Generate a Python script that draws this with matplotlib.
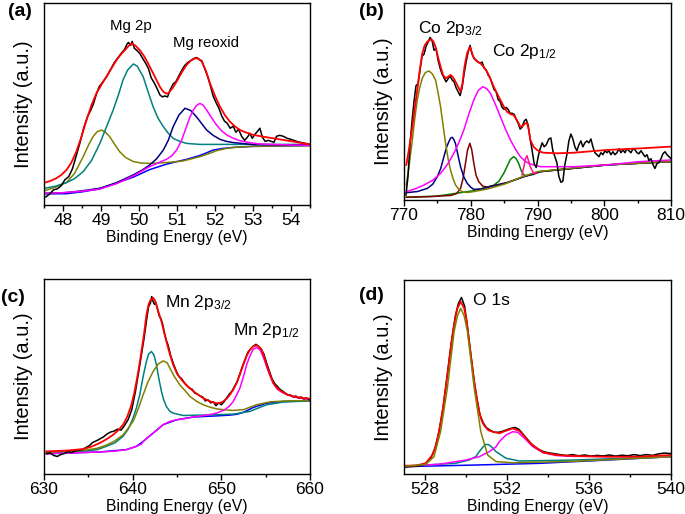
import numpy as np
import matplotlib.pyplot as plt
from matplotlib.ticker import MultipleLocator

plt.rcParams['font.family'] = 'Liberation Sans'
plt.rcParams['mathtext.fontset'] = 'custom'
plt.rcParams['mathtext.rm'] = 'Liberation Sans'
plt.rcParams['mathtext.it'] = 'Liberation Sans:italic'

# ---------- (a) Mg 2p ----------
a_exp = [(47.55, 4.0), (47.65, 5.5), (47.75, 7.5), (47.85, 8.0), (47.95, 9.5), (48.05, 12.5), (48.15, 14.0),
         (48.25, 18.0), (48.35, 24.5), (48.45, 31.0), (48.55, 38.5), (48.65, 44.0), (48.72, 46.5), (48.80, 50.0),
         (48.88, 55.0), (48.95, 58.5), (49.05, 61.0), (49.15, 63.5), (49.25, 67.0), (49.35, 70.5), (49.45, 73.0),
         (49.55, 75.5), (49.62, 77.0), (49.68, 79.5), (49.72, 80.5), (49.78, 79.0), (49.82, 81.0), (49.88, 77.5),
         (49.95, 76.5), (50.02, 75.0), (50.10, 72.5), (50.18, 70.0), (50.25, 67.5), (50.32, 63.0), (50.40, 60.5),
         (50.48, 57.5), (50.55, 54.5), (50.62, 53.5), (50.68, 54.0), (50.75, 53.5), (50.82, 57.0), (50.90, 60.0),
         (50.97, 61.0), (51.05, 64.0), (51.12, 66.5), (51.20, 69.0), (51.28, 70.5), (51.36, 71.5), (51.44, 72.5),
         (51.52, 73.0), (51.58, 72.0), (51.65, 71.5), (51.72, 68.0), (51.80, 64.0), (51.88, 59.0), (51.95, 54.0),
         (52.02, 51.0), (52.10, 48.0), (52.18, 44.0), (52.25, 41.5), (52.32, 40.5), (52.40, 38.0), (52.48, 39.0),
         (52.55, 36.0), (52.62, 37.5), (52.70, 34.0), (52.78, 32.0), (52.85, 33.5), (52.92, 35.5), (52.98, 33.0),
         (53.05, 35.0), (53.12, 36.5), (53.18, 38.0), (53.25, 33.5), (53.32, 31.5), (53.40, 32.0), (53.48, 31.5),
         (53.55, 31.0), (53.62, 34.0), (53.70, 34.5), (53.80, 34.0), (53.90, 33.0), (54.00, 32.5), (54.10, 31.8),
         (54.20, 31.2), (54.30, 30.8), (54.40, 30.4), (54.50, 30.0)]
a_fit = [(47.52, 11.1), (47.65, 11.8), (47.82, 13.2), (47.95, 14.8), (48.09, 17.3), (48.22, 21.0), (48.35, 26.4),
         (48.48, 33.5), (48.62, 42.1), (48.75, 49.5), (48.88, 55.3), (49.01, 59.5), (49.14, 63.5), (49.28, 67.8),
         (49.41, 71.8), (49.52, 74.5), (49.63, 76.7), (49.72, 78.6), (49.80, 80.0), (49.90, 79.0), (50.02, 76.7),
         (50.13, 73.8), (50.24, 70.1), (50.35, 66.0), (50.46, 61.9), (50.55, 58.5), (50.64, 56.1), (50.71, 55.2),
         (50.77, 55.3), (50.88, 57.8), (50.99, 61.1), (51.12, 65.5), (51.25, 69.3), (51.36, 71.4), (51.47, 72.6),
         (51.56, 72.5), (51.65, 71.0), (51.76, 66.5), (51.87, 60.2), (52.00, 54.0), (52.13, 48.7), (52.26, 44.5),
         (52.39, 41.3), (52.52, 39.0), (52.66, 37.1), (52.83, 35.8), (53.01, 34.7), (53.27, 33.8), (53.54, 33.0),
         (53.80, 32.2), (54.06, 31.4), (54.28, 30.7), (54.50, 30.0)]
a_bg = [(47.52, 5.5), (48.09, 5.6), (48.50, 6.5), (48.97, 8.0), (49.40, 10.8), (49.85, 13.8), (50.28, 17.5),
        (50.72, 20.2), (51.00, 21.5), (51.25, 22.6), (51.60, 24.5), (51.80, 26.0), (51.95, 27.2), (52.20, 28.0),
        (52.48, 28.5), (53.00, 29.0), (54.50, 29.4)]
a_p490 = [(47.52, 7.1), (47.80, 8.8), (48.09, 11.1), (48.30, 15.5), (48.53, 23.9), (48.68, 30.0), (48.79, 33.8),
          (48.90, 36.3), (49.01, 37.1), (49.12, 36.0), (49.23, 33.8), (49.36, 30.0), (49.49, 26.4), (49.65, 23.5),
          (49.85, 21.5), (50.05, 20.8), (50.28, 20.6), (50.72, 21.0), (51.16, 21.8), (51.60, 23.9), (51.85, 25.5),
          (52.04, 26.9), (52.25, 27.8), (52.48, 28.5), (53.00, 29.1), (54.50, 29.4)]
a_p498 = [(47.52, 8.3), (47.80, 9.3), (48.09, 11.1), (48.30, 13.0), (48.53, 16.5), (48.75, 22.0), (48.97, 30.5),
          (49.14, 38.5), (49.32, 47.0), (49.45, 54.0), (49.58, 61.9), (49.70, 66.8), (49.85, 69.8), (49.95, 68.8),
          (50.11, 63.5), (50.24, 56.0), (50.37, 48.7), (50.50, 43.0), (50.64, 38.8), (50.77, 35.5), (50.90, 33.0),
          (51.07, 31.5), (51.25, 30.5), (51.60, 30.0), (52.50, 30.0), (54.50, 30.0)]
a_p512 = [(47.52, 5.8), (48.00, 6.0), (48.50, 7.0), (48.97, 8.3), (49.40, 11.0), (49.85, 14.9), (50.10, 17.5),
          (50.28, 19.8), (50.46, 22.8), (50.64, 27.2), (50.77, 32.0), (50.90, 38.8), (51.05, 44.5), (51.21, 47.9),
          (51.36, 46.8), (51.51, 43.7), (51.65, 40.3), (51.78, 37.1), (51.95, 34.5), (52.13, 32.5), (52.30, 31.5),
          (52.48, 30.9), (53.01, 29.9), (54.50, 29.7)]
a_p516 = [(47.52, 5.8), (48.00, 6.1), (48.50, 6.8), (48.97, 7.9), (49.40, 10.5), (49.85, 14.4), (50.28, 19.0),
          (50.50, 20.8), (50.72, 22.6), (50.86, 24.3), (50.99, 27.2), (51.12, 32.0), (51.25, 38.8), (51.34, 43.5),
          (51.43, 47.0), (51.51, 49.2), (51.60, 50.3), (51.69, 49.4), (51.78, 47.0), (51.91, 43.2), (52.04, 39.6),
          (52.17, 36.8), (52.31, 34.7), (52.48, 33.0), (52.66, 31.8), (52.90, 30.9), (53.18, 30.2), (53.80, 29.8),
          (54.50, 29.5)]

# ---------- (b) Co 2p ----------
b_exp = [(770.3, 2.5), (770.6, 12), (770.9, 28), (771.2, 40), (771.5, 50), (771.8, 58), (772.1, 59), (772.4, 66),
         (772.7, 73), (773.0, 74), (773.3, 78), (773.6, 80), (773.9, 82.5), (774.2, 81), (774.5, 76), (774.8, 77),
         (775.1, 71), (775.4, 67), (775.7, 64), (776.0, 62), (776.3, 60), (776.6, 61.5), (776.9, 63), (777.2, 61),
         (777.5, 60), (777.8, 57), (778.1, 55), (778.4, 53), (778.7, 57), (779.0, 64), (779.3, 70), (779.6, 75),
         (779.9, 78.5), (780.2, 74), (780.5, 72), (780.8, 71), (781.1, 70), (781.4, 69.5), (781.7, 70), (782.0, 67),
         (782.3, 66), (782.6, 63.5), (782.9, 62), (783.2, 59), (783.5, 56), (783.8, 55), (784.1, 51), (784.4, 50),
         (784.7, 47), (785.0, 46), (785.3, 47), (785.6, 46), (785.9, 44), (786.2, 44), (786.5, 43.5), (786.8, 41),
         (787.1, 39), (787.4, 36), (787.7, 37), (788.0, 40), (788.3, 41), (788.6, 38), (788.9, 31), (789.2, 25),
         (789.5, 18.5), (789.8, 16.5), (790.1, 22), (790.4, 26), (790.7, 29), (791.0, 27), (791.3, 28), (791.7, 31),
         (792.0, 31.5), (792.3, 25), (792.6, 22), (792.9, 19), (793.2, 12), (793.5, 9), (793.8, 9.5), (794.1, 18),
         (794.4, 23), (794.7, 30), (795.0, 33.5), (795.3, 31), (795.6, 27), (795.9, 25), (796.2, 28), (796.5, 30),
         (796.8, 27), (797.1, 29), (797.4, 30), (797.7, 29), (798.0, 31), (798.3, 27), (798.6, 24), (798.9, 23),
         (799.2, 22), (799.5, 24), (799.8, 23), (800.1, 25), (800.4, 24), (800.7, 25), (801.0, 23), (801.3, 24.5),
         (801.6, 23), (801.9, 24), (802.2, 26), (802.5, 24), (802.8, 25.5), (803.1, 24), (803.4, 26), (803.7, 25),
         (804.0, 24), (804.3, 26), (804.6, 25.5), (804.9, 24), (805.2, 23.5), (805.5, 25), (805.8, 23.5), (806.1, 22),
         (806.4, 23), (806.7, 20), (807.0, 21), (807.3, 18), (807.6, 16), (807.9, 18.5), (808.2, 19), (808.5, 21),
         (808.8, 23.5), (809.1, 24.5), (809.4, 23), (809.7, 22), (810.0, 21)]
b_fit = [(770.35, 17.8), (770.8, 27.0), (771.25, 37.2), (771.6, 46.5), (771.99, 55.8), (772.35, 65.5),
         (772.74, 74.5), (773.1, 78.5), (773.49, 80.4), (774.08, 81.6), (774.4, 80.5), (774.73, 77.7),
         (775.1, 72.5), (775.48, 67.7), (775.85, 63.5), (776.23, 61.8), (776.6, 62.5), (776.97, 63.5),
         (777.35, 62.3), (777.72, 60.1), (778.1, 57.5), (778.47, 55.0), (778.75, 59.0), (779.06, 67.7),
         (779.45, 74.5), (779.86, 77.7), (780.15, 75.0), (780.46, 71.9), (780.95, 70.3), (781.45, 69.4),
         (781.95, 67.5), (782.45, 65.1), (782.95, 61.5), (783.45, 57.5), (783.95, 54.0), (784.44, 50.8),
         (784.94, 47.5), (785.44, 44.8), (785.94, 43.6), (786.43, 43.1), (786.93, 40.5), (787.43, 37.2),
         (787.8, 37.5), (788.1, 38.9), (788.43, 39.0), (788.7, 35.5), (788.92, 30.5), (789.42, 27.0),
         (789.92, 25.4), (790.42, 24.5), (790.92, 24.0), (792.91, 23.7), (795.4, 24.0), (800.38, 25.4),
         (805.36, 26.2), (810.0, 27.1)]
b_p774 = [(770.35, 7.6), (770.8, 18.5), (771.25, 30.5), (771.6, 41.0), (771.99, 50.8), (772.35, 57.0),
          (772.74, 61.8), (773.2, 64.7), (773.74, 65.5), (774.25, 64.0), (774.73, 60.9), (775.1, 54.5),
          (775.48, 47.4), (775.85, 38.0), (776.23, 28.8), (776.6, 21.0), (776.97, 15.2), (777.35, 10.8),
          (777.72, 7.6), (778.2, 5.5), (778.72, 4.2), (779.5, 3.8), (780.5, 4.3), (782.5, 5.6), (785.0, 8.0),
          (787.5, 11.5), (790.0, 14.4), (795.0, 16.1), (800.0, 17.8), (810.0, 19.5)]
b_p777 = [(770.35, 3.7), (772.0, 4.3), (773.49, 5.9), (774.3, 8.0), (774.98, 11.8), (775.5, 16.0), (775.98, 22.0),
          (776.4, 27.0), (776.72, 29.6), (777.0, 31.5), (777.22, 31.8), (777.45, 30.8), (777.72, 28.6),
          (778.1, 22.5), (778.47, 16.9), (778.95, 11.8), (779.46, 8.5), (780.0, 6.5), (780.46, 5.4), (781.5, 5.5),
          (783.0, 6.8), (785.44, 8.8), (787.93, 11.8), (790.42, 14.4), (795.4, 16.1), (800.38, 17.8), (810.0, 19.5)]
b_p780 = [(770.35, 1.4), (774.0, 1.7), (777.0, 2.3), (777.9, 3.3), (778.47, 5.9), (778.85, 11.0), (779.21, 18.6),
          (779.5, 25.0), (779.86, 28.8), (780.15, 25.5), (780.46, 18.6), (780.8, 12.5), (781.2, 9.3), (781.8, 7.0),
          (782.45, 6.6), (785.44, 8.8), (787.93, 11.8), (790.42, 14.4), (795.4, 16.1), (800.38, 17.8), (810.0, 19.5)]
b_p782 = [(770.35, 4.2), (771.7, 5.7), (772.99, 7.6), (774.3, 10.0), (775.48, 13.5), (776.5, 18.0), (777.47, 23.7),
          (778.2, 29.0), (778.96, 35.5), (779.7, 43.5), (780.46, 50.8), (781.1, 55.5), (781.8, 57.5), (782.4, 56.5),
          (782.95, 54.1), (783.7, 48.5), (784.44, 42.3), (785.2, 36.0), (785.94, 30.5), (786.7, 25.8),
          (787.43, 22.0), (788.2, 19.5), (788.92, 18.3), (790.42, 16.9), (795.4, 16.9), (800.38, 17.8),
          (805.36, 19.5), (810.0, 20.3)]
b_p786 = [(770.35, 1.4), (775.0, 2.0), (780.0, 4.5), (782.5, 6.5), (783.45, 7.5), (784.2, 9.5), (784.94, 13.5),
          (785.5, 17.5), (785.94, 20.6), (786.43, 22.0), (786.8, 21.0), (787.18, 18.6), (787.55, 15.0),
          (787.93, 12.7), (788.5, 12.4), (789.42, 13.0), (790.42, 14.4), (795.4, 16.1), (800.38, 17.8), (810.0, 19.5)]
b_p788 = [(787.68, 12.7), (788.03, 18.0), (788.2, 21.0), (788.43, 22.5), (788.6, 20.5), (788.92, 16.9),
          (789.42, 13.5), (789.9, 13.8)]

# ---------- (c) Mn 2p ----------
c_exp = [(630.3, 10.5), (630.7, 10.8), (631.1, 9.5), (631.5, 9.0), (631.9, 10.0), (632.3, 10.5), (632.7, 11.5),
         (633.1, 11.0), (633.5, 11.8), (633.9, 12.2), (634.3, 12.5), (634.7, 13.5), (635.1, 14.5), (635.5, 16.2),
         (635.9, 17.0), (636.3, 18.0), (636.7, 19.0), (637.1, 20.5), (637.5, 21.5), (637.9, 22.0), (638.3, 23.0),
         (638.7, 22.5), (639.1, 25.0), (639.5, 28.0), (639.9, 33.0), (640.3, 42.0), (640.7, 53.0), (641.0, 61.5),
         (641.3, 70.0), (641.6, 80.0), (641.8, 86.0), (642.0, 87.5), (642.15, 91.0), (642.3, 88.5), (642.45, 87.0),
         (642.6, 88.0), (642.8, 84.5), (643.0, 81.0), (643.2, 79.5), (643.4, 76.5), (643.6, 72.0), (643.8, 68.5),
         (644.0, 66.0), (644.3, 60.5), (644.6, 56.5), (644.9, 53.0), (645.2, 50.0), (645.5, 49.0), (645.8, 47.0),
         (646.1, 45.5), (646.4, 44.0), (646.7, 43.5), (647.0, 41.5), (647.3, 41.0), (647.6, 40.0), (647.9, 39.5),
         (648.2, 37.5), (648.5, 38.0), (648.8, 36.5), (649.1, 37.0), (649.4, 35.0), (649.7, 36.5), (650.0, 35.5),
         (650.3, 37.0), (650.6, 39.0), (650.9, 41.0), (651.2, 42.5), (651.5, 45.0), (651.8, 47.5), (652.1, 51.5),
         (652.4, 55.5), (652.7, 59.0), (653.0, 62.5), (653.3, 64.0), (653.6, 65.5), (653.9, 66.5), (654.2, 65.5),
         (654.5, 64.0), (654.8, 61.5), (655.1, 57.0), (655.4, 53.0), (655.7, 49.0), (656.0, 46.5), (656.3, 45.0),
         (656.6, 43.5), (656.9, 42.5), (657.2, 41.5), (657.5, 40.5), (657.8, 40.5), (658.1, 39.5), (658.4, 40.0),
         (658.7, 39.0), (659.0, 39.5), (659.3, 38.5), (659.6, 39.0), (660.0, 38.0)]
c_fit = [(630.26, 11.6), (631.4, 11.8), (632.52, 12.0), (633.5, 12.4), (634.4, 12.8), (635.4, 14.1), (636.29, 15.9),
         (637.04, 17.8), (637.79, 20.1), (638.4, 22.5), (638.92, 25.3), (639.4, 29.5), (639.86, 35.5), (640.15, 41.0),
         (640.43, 47.4), (640.72, 55.0), (640.99, 62.8), (641.3, 72.5), (641.55, 81.6), (641.8, 87.0), (642.01, 89.2),
         (642.31, 90.4), (642.5, 89.2), (642.68, 86.7), (642.95, 82.5), (643.25, 78.2), (643.5, 73.5), (643.81, 67.9),
         (644.19, 61.5), (644.57, 56.0), (645.0, 51.5), (645.51, 48.3), (646.0, 45.8), (646.64, 43.2), (647.3, 40.9),
         (647.95, 38.9), (648.7, 37.3), (649.46, 36.3), (649.85, 36.4), (650.21, 37.2), (650.6, 38.6), (650.96, 40.6),
         (651.34, 43.2), (651.72, 46.6), (652.09, 51.0), (652.47, 56.0), (652.85, 60.5), (653.22, 63.7), (653.6, 65.5),
         (653.97, 65.9), (654.25, 65.3), (654.54, 63.7), (654.8, 60.5), (655.1, 56.0), (655.48, 51.0), (655.86, 46.6),
         (656.3, 44.0), (656.8, 42.3), (657.4, 40.8), (658.11, 39.8), (659.0, 39.1), (660.0, 38.6)]
c_p642 = [(630.26, 10.8), (632.0, 11.1), (634.4, 11.6), (636.0, 12.5), (637.04, 14.2), (638.0, 16.0), (638.92, 19.3),
          (639.5, 23.0), (640.05, 28.7), (640.43, 34.0), (640.8, 40.6), (641.18, 50.0), (641.55, 57.7), (641.8, 61.5),
          (642.12, 62.8), (642.4, 61.0), (642.68, 56.0), (642.95, 49.0), (643.25, 42.3), (643.5, 38.0), (643.81, 34.6),
          (644.19, 32.2), (644.57, 31.2), (645.69, 30.0), (649.46, 30.4), (651.34, 30.7), (653.22, 32.1), (655.1, 35.5),
          (656.99, 36.9), (660.0, 37.5)]
c_p643 = [(630.26, 11.1), (632.0, 11.5), (634.4, 12.1), (636.0, 13.2), (637.04, 14.8), (638.0, 17.0), (638.92, 20.1),
          (639.5, 23.5), (640.05, 27.0), (640.6, 33.0), (641.18, 40.6), (641.7, 47.0), (642.31, 52.6), (642.9, 56.5),
          (643.44, 58.0), (643.9, 57.0), (644.19, 54.3), (644.7, 50.0), (645.32, 45.7), (646.0, 42.3), (646.45, 39.8),
          (647.2, 37.3), (647.95, 35.5), (648.7, 34.3), (649.46, 33.4), (650.4, 32.9), (651.34, 32.6), (652.5, 33.0),
          (653.97, 35.5), (655.5, 37.0), (657.36, 37.5), (660.0, 37.7)]
c_p654 = [(630.26, 10.4), (633.0, 10.8), (636.29, 11.3), (638.0, 11.7), (639.3, 12.5), (640.43, 14.2), (641.0, 15.3),
          (641.18, 16.7), (641.7, 18.8), (642.31, 21.0), (643.0, 23.5), (643.44, 25.3), (644.2, 27.0), (644.95, 27.8),
          (646.0, 28.5), (646.82, 29.2), (648.5, 30.3), (649.46, 31.2), (650.4, 33.0), (650.96, 35.0), (651.34, 37.2),
          (651.72, 40.5), (652.09, 44.0), (652.47, 49.5), (652.85, 56.0), (653.22, 60.5), (653.6, 64.0), (653.97, 64.8),
          (654.35, 63.8), (654.54, 61.9), (654.85, 58.5), (655.1, 55.1), (655.48, 50.5), (655.86, 46.6), (656.3, 43.5),
          (656.99, 41.5), (658.0, 39.8), (658.49, 39.2), (660.0, 38.1)]
c_bg = [(630.26, 10.4), (636.29, 11.3), (639.3, 12.5), (640.43, 14.2), (641.18, 16.7), (642.31, 21.0), (643.44, 25.3),
        (644.95, 27.8), (646.82, 29.2), (649.46, 29.8), (650.96, 30.2), (651.72, 30.6), (652.47, 31.6), (653.6, 34.1),
        (655.1, 36.3), (656.99, 37.2), (660.0, 37.5)]

# ---------- (d) O 1s ----------
d_exp = [(527.0, 3.5), (527.3, 3.8), (527.6, 4.0), (527.9, 4.6), (528.1, 5.8), (528.3, 8.0), (528.5, 13.0),
         (528.7, 21.5), (528.9, 34.0), (529.1, 50.5), (529.3, 67.5), (529.5, 81.5), (529.65, 88.0), (529.8, 91.0),
         (529.95, 86.5), (530.1, 75.0), (530.25, 62.0), (530.4, 49.0), (530.55, 38.5), (530.7, 30.5), (530.85, 26.5),
         (531.0, 24.0), (531.2, 22.5), (531.4, 21.5), (531.6, 21.5), (531.8, 22.0), (532.0, 22.8), (532.2, 23.5),
         (532.4, 24.0), (532.6, 23.0), (532.8, 20.5), (533.0, 18.0), (533.2, 15.5), (533.4, 13.8), (533.6, 12.5),
         (533.8, 11.5), (534.0, 11.0), (534.3, 10.5), (534.6, 10.0), (534.9, 9.5), (535.2, 10.0), (535.5, 9.4),
         (535.8, 9.8), (536.1, 9.2), (536.4, 9.6), (536.7, 9.3), (537.0, 9.8), (537.3, 9.2), (537.6, 9.7),
         (537.9, 9.4), (538.2, 10.0), (538.5, 9.5), (538.8, 10.0), (539.1, 9.6), (539.4, 10.4), (539.7, 10.8),
         (540.0, 10.5)]
d_fit = [(527.0, 4.3), (527.56, 4.3), (528.05, 5.5), (528.38, 9.8), (528.55, 14.5), (528.7, 21.8), (528.87, 32.0),
         (529.03, 44.2), (529.2, 58.5), (529.36, 71.6), (529.5, 80.5), (529.6, 85.4), (529.76, 88.8), (529.93, 85.4),
         (530.05, 79.0), (530.17, 68.2), (530.3, 57.5), (530.42, 47.6), (530.55, 39.0), (530.66, 32.1), (530.78, 27.5),
         (530.91, 24.9), (531.1, 22.6), (531.31, 21.8), (531.64, 21.0), (531.97, 22.3), (532.29, 23.5), (532.62, 22.2),
         (532.95, 18.4), (533.15, 16.0), (533.36, 14.1), (533.76, 11.2), (534.42, 9.8), (535.23, 9.3), (536.87, 8.9),
         (538.5, 8.9), (540.0, 9.8)]
d_p530 = [(527.0, 4.0), (528.05, 4.9), (528.46, 8.9), (528.78, 21.8), (529.11, 44.2), (529.44, 73.4), (529.6, 81.5),
          (529.76, 85.4), (529.93, 81.5), (530.09, 73.4), (530.42, 44.2), (530.74, 21.8), (531.07, 9.8), (531.48, 6.4),
          (532.29, 5.8), (535.23, 6.5), (540.0, 8.9)]
d_p531 = [(527.0, 4.0), (529.5, 5.5), (530.17, 7.2), (530.5, 9.0), (530.66, 11.5), (530.85, 14.0), (530.99, 15.3),
          (531.15, 15.0), (531.31, 13.5), (531.48, 11.5), (531.97, 8.1), (532.62, 6.7), (535.23, 7.2), (540.0, 8.9)]
d_p532 = [(527.0, 4.1), (528.7, 5.0), (530.01, 7.2), (530.66, 8.9), (531.15, 11.5), (531.48, 14.0), (531.64, 16.7),
          (531.97, 20.1), (532.29, 21.8), (532.54, 21.5), (532.87, 18.4), (533.27, 14.1), (533.76, 11.0),
          (534.42, 9.5), (535.23, 9.1), (540.0, 8.9)]
d_bg = [(527.0, 3.8), (530.4, 4.6), (533.6, 5.5), (536.9, 7.2), (540.0, 8.9)]

W, H = 685, 514
fig = plt.figure(figsize=(W / 100, H / 100), dpi=100)


def make_axes(left, top, right, bottom, xlim, major, minor):
    ax = fig.add_axes([left / W, 1 - bottom / H, (right - left) / W, (bottom - top) / H])
    ax.set_xlim(*xlim)
    ax.set_ylim(0, 100)
    ax.set_yticks([])
    ax.xaxis.set_major_locator(MultipleLocator(major))
    ax.xaxis.set_minor_locator(MultipleLocator(minor))
    ax.tick_params(axis='x', which='major', direction='out', length=4, width=1, labelsize=12.5, pad=2)
    ax.tick_params(axis='x', which='minor', direction='out', length=2.5, width=1)
    for s in ax.spines.values():
        s.set_linewidth(1.0)
    ax.set_xlabel('Binding Energy (eV)', fontsize=11.3, labelpad=1)
    ax.set_ylabel('Intensity (a.u.)', fontsize=14.5)
    ax.yaxis.set_label_coords(-0.04, 0.5)
    return ax


def draw(ax, pts, color, lw=1.1):
    xy = np.array(pts)
    ax.plot(xy[:, 0], xy[:, 1], color=color, lw=lw)


ax_a = make_axes(44, 3, 310, 205, (47.5, 54.5), 1, 0.5)
draw(ax_a, a_bg, '#0000ff')
draw(ax_a, a_p490, '#808000')
draw(ax_a, a_p498, '#008080')
draw(ax_a, a_p512, '#000080')
draw(ax_a, a_p516, '#ff00ff')
draw(ax_a, a_exp, 'black')
draw(ax_a, a_fit, '#ff0000', 1.3)
ax_a.text(0.248, 0.866, 'Mg 2p', transform=ax_a.transAxes, fontsize=10.8)
ax_a.text(0.484, 0.784, 'Mg reoxid', transform=ax_a.transAxes, fontsize=10.8)

ax_b = make_axes(404, 3, 671, 200, (770, 810), 10, 5)
draw(ax_b, b_p786, '#008000')
draw(ax_b, b_p780, '#800000')
draw(ax_b, b_p777, '#000080')
draw(ax_b, b_p774, '#808000')
draw(ax_b, b_p782, '#ff00ff')
draw(ax_b, b_p788, '#ff1493')
draw(ax_b, b_exp, 'black')
draw(ax_b, b_fit, '#ff0000', 1.3)
ax_b.text(0.052, 0.846, 'Co 2p$_{3/2}$', transform=ax_b.transAxes, fontsize=12.5)
ax_b.text(0.328, 0.731, 'Co 2p$_{1/2}$', transform=ax_b.transAxes, fontsize=12.5)

ax_c = make_axes(44, 279, 310, 474, (630, 660), 10, 5)
draw(ax_c, c_bg, '#0000ff')
draw(ax_c, c_p642, '#008080')
draw(ax_c, c_p643, '#808000')
draw(ax_c, c_p654, '#ff00ff')
draw(ax_c, c_exp, 'black')
draw(ax_c, c_fit, '#ff0000', 1.3)
ax_c.text(0.455, 0.855, 'Mn 2p$_{3/2}$', transform=ax_c.transAxes, fontsize=12.5)
ax_c.text(0.709, 0.713, 'Mn 2p$_{1/2}$', transform=ax_c.transAxes, fontsize=12.5)

ax_d = make_axes(404, 280, 671, 474, (527, 540), 4, 2)
draw(ax_d, d_bg, '#0000ff')
draw(ax_d, d_p531, '#008080')
draw(ax_d, d_p532, '#ff00ff')
draw(ax_d, d_exp, 'black')
draw(ax_d, d_fit, '#ff0000', 1.3)
draw(ax_d, d_p530, '#808000')
ax_d.text(0.258, 0.871, 'O 1s', transform=ax_d.transAxes, fontsize=12.5)

for lab, (px, py) in zip(['(a)', '(b)', '(c)', '(d)'], [(19.5, 11.5), (371, 11), (13, 297), (371, 296)]):
    fig.text(px / W, 1 - py / H, lab, fontsize=14, fontweight='bold', ha='center', va='center')

fig.savefig('out.png', dpi=100)
